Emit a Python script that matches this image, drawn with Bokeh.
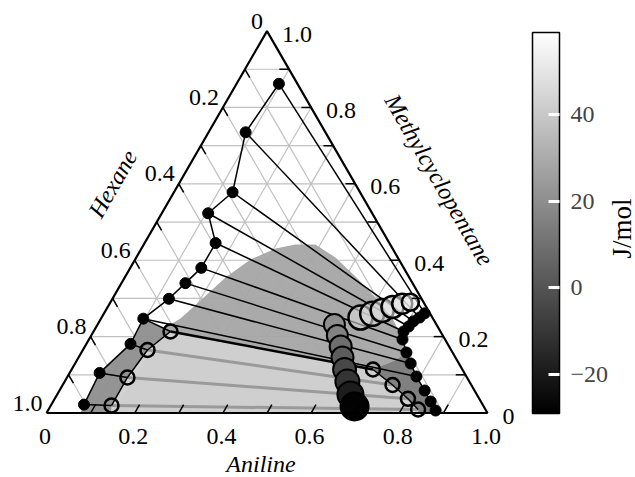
import numpy as np
from bokeh.plotting import figure
from bokeh.models import Range1d, ColumnDataSource, LinearColorMapper, ColorBar, FixedTicker
from bokeh.palettes import Greys256
from bokeh.transform import transform
from bokeh.core.properties import value
from bokeh.embed import file_html
from bokeh.resources import INLINE

# ---------------- data (mole fractions: aniline, methylcyclopentane; hexane = rest) -------------
axis_ticks = [0.0, 0.2, 0.4, 0.6, 0.8, 1.0]
axis_tick_labels = ["0", "0.2", "0.4", "0.6", "0.8", "1.0"]
minor_ticks = [0.1, 0.2, 0.3, 0.4, 0.5, 0.6, 0.7, 0.8, 0.9]

# experimental hexane-rich phase (filled dots, left branch)
hex_rich_aniline = [0.096, 0.084, 0.133, 0.105, 0.161, 0.161, 0.145, 0.128, 0.096, 0.100, 0.068, 0.074]
hex_rich_mcp = [0.862, 0.735, 0.578, 0.523, 0.445, 0.380, 0.340, 0.299, 0.247, 0.181, 0.105, 0.022]
# experimental aniline-rich phase (filled dots, right branch)
ani_rich_aniline = [0.727, 0.721, 0.712, 0.708, 0.703, 0.711, 0.737, 0.761, 0.791, 0.828, 0.856, 0.879]
ani_rich_mcp = [0.261, 0.250, 0.240, 0.2265, 0.2134, 0.1925, 0.1584, 0.1296, 0.0956, 0.0589, 0.0301, 0.0065]

# calculated phases (open circles)
calc_left_aniline = [0.1745, 0.1465, 0.137, 0.1376]
calc_left_mcp = [0.2134, 0.165, 0.093, 0.0196]
calc_right_aniline = [0.6834, 0.748, 0.801, 0.838]
calc_right_mcp = [0.1139, 0.0733, 0.0372, 0.0092]

# excess enthalpy points (big circles), J/mol
arc_aniline = [0.587, 0.6086, 0.627, 0.6458, 0.6636, 0.680]
arc_mcp = [0.250, 0.2598, 0.2684, 0.2776, 0.286, 0.290]
arc_he = [45, 46, 47, 48, 50, 52]
col_aniline = [0.537, 0.558, 0.580, 0.5985, 0.619, 0.641, 0.665, 0.690]
col_mcp = [0.2317, 0.203, 0.1741, 0.1453, 0.1139, 0.0825, 0.0484, 0.017]
col_he = [20, 16, 9, 3, -4, -11, -19, -28]

# shaded regions, J/mol
dome_aniline = [0.158, 0.180, 0.202, 0.2285, 0.2616, 0.304, 0.344, 0.389, 0.4517, 0.522, 0.5948,
                0.661, 0.7098, 0.7567, 0.812, 0.861, 0.884, 0.147]
dome_mcp = [0.2239, 0.2474, 0.2946, 0.3548, 0.402, 0.4307, 0.4412, 0.4412, 0.4072, 0.3574, 0.3024,
            0.2474, 0.195, 0.1375, 0.072, 0.0196, 0.0, 0.0]
dome_he = 28
light_aniline = [0.1745, 0.6834, 0.748, 0.801, 0.838, 0.8435, 0.147, 0.1376, 0.137, 0.1465]
light_mcp = [0.2134, 0.1139, 0.0733, 0.0372, 0.0092, 0.0, 0.0, 0.0196, 0.093, 0.165]
light_he = 43
rband_aniline = [0.6834, 0.7227, 0.737, 0.761, 0.791, 0.828, 0.856, 0.879, 0.8866, 0.8435, 0.838, 0.801, 0.748]
rband_mcp = [0.1139, 0.1375, 0.1584, 0.1296, 0.0956, 0.0589, 0.0301, 0.0065, 0.0, 0.0, 0.0092, 0.0372, 0.0733]
rband_he = 14
lband_aniline = [0.096, 0.1745, 0.1465, 0.137, 0.1376, 0.147, 0.077, 0.074, 0.068, 0.100]
lband_mcp = [0.247, 0.2134, 0.165, 0.093, 0.0196, 0.0, 0.0, 0.022, 0.105, 0.181]
lband_he = 20

cbar_ticks = [-20, 0, 20, 40]
cbar_low, cbar_high = -29, 59

# ---------------- helpers ----------------
S3 = np.sqrt(3) / 2


def tern(aniline, mcp):
    a = np.asarray(aniline, float)
    m = np.asarray(mcp, float)
    return a + m / 2, m * S3


FONT = value("Liberation Serif")

p = figure(width=635, height=477, output_backend="svg", toolbar_location=None,
           x_range=Range1d(-46 / 441, 589 / 441), y_range=Range1d(-64.5 / 441, 412.5 / 441),
           min_border=0, min_border_left=0, min_border_right=0, min_border_top=0, min_border_bottom=0)
p.axis.visible = False
p.grid.visible = False
p.outline_line_color = None
p.background_fill_color = "white"

mapper = LinearColorMapper(palette=Greys256, low=cbar_low, high=cbar_high)

# grid
gx, gy = [], []
for v in minor_ticks:
    for (a0, m0, a1, m1) in [(v, 0, v, 1 - v), (0, v, 1 - v, v), (1 - v, 0, 0, 1 - v)]:
        x, y = tern([a0, a1], [m0, m1])
        gx.append(list(x)); gy.append(list(y))
p.multi_line(gx, gy, line_color="#c0c0c0", line_width=1.2)

# shaded regions
pxs, pys, pvals = [], [], []
for aa, mm, vv in [(dome_aniline, dome_mcp, dome_he), (light_aniline, light_mcp, light_he),
                   (rband_aniline, rband_mcp, rband_he), (lband_aniline, lband_mcp, lband_he)]:
    x, y = tern(aa, mm)
    pxs.append(list(x)); pys.append(list(y)); pvals.append(vv)
p.patches("xs", "ys", source=ColumnDataSource(dict(xs=pxs, ys=pys, val=pvals)),
          fill_color=transform("val", mapper), line_color=None, fill_alpha=0.95)

# tie lines
lx, ly = tern(hex_rich_aniline, hex_rich_mcp)
rx, ry = tern(ani_rich_aniline, ani_rich_mcp)
olx, oly = tern(calc_left_aniline, calc_left_mcp)
orx, ory = tern(calc_right_aniline, calc_right_mcp)

gtx = [[olx[i], orx[i]] for i in range(1, 4)]
gty = [[oly[i], ory[i]] for i in range(1, 4)]
p.multi_line(gtx, gty, line_color="#9a9a9a", line_width=3)

btx = [[lx[i], rx[i]] for i in range(9)]
bty = [[ly[i], ry[i]] for i in range(9)]
btx += [[lx[8], olx[0]], [lx[9], olx[1]], [lx[10], olx[2]], [lx[11], olx[3]]]
bty += [[ly[8], oly[0]], [ly[9], oly[1]], [ly[10], oly[2]], [ly[11], oly[3]]]
p.multi_line(btx, bty, line_color="black", line_width=1.5)
p.line([olx[0], orx[0]], [oly[0], ory[0]], line_color="black", line_width=2.5)

# binodal branches
for x, y in [(lx, ly), (rx, ry), (olx, oly), (orx, ory)]:
    p.line(x, y, line_color="black", line_width=1.5)

p.scatter(lx, ly, size=11, fill_color="black", line_color="black")
p.scatter(rx, ry, size=11, fill_color="black", line_color="black")
p.scatter(np.concatenate([olx, orx]), np.concatenate([oly, ory]), size=14,
          fill_color=None, line_color="black", line_width=2.5)

# excess enthalpy circles
ax_, ay_ = tern(arc_aniline, arc_mcp)
p.scatter("x", "y", source=ColumnDataSource(dict(x=ax_, y=ay_, val=arc_he, s=[24, 24, 23, 22, 20, 17])),
          size="s", fill_color=transform("val", mapper), fill_alpha=0.6, line_color="black", line_width=2.5)
cx_, cy_ = tern(col_aniline, col_mcp)
p.scatter("x", "y", source=ColumnDataSource(dict(x=cx_, y=cy_, val=col_he, s=[21, 21, 22, 22, 23, 24, 26, 28])),
          size="s", fill_color=transform("val", mapper), line_color="black", line_width=2)

# triangle frame
tx, ty = tern([0, 1, 0, 0], [0, 0, 1, 0])
p.line(tx, ty, line_color="black", line_width=2.2)

# ticks
L = 0.022
tkx, tky = [], []
for v in minor_ticks:
    for (a0, m0, a1, m1) in [(v, 0, v, L), (0, 1 - v, L, 1 - v - L), (1 - v, v, 1 - v - L, v)]:
        x, y = tern([a0, a1], [m0, m1])
        tkx.append(list(x)); tky.append(list(y))
p.multi_line(tkx, tky, line_color="black", line_width=1.5)

# tick labels
TS = "24px"
bx, by = tern(axis_ticks, [0] * 6)
p.text(bx, by, text=axis_tick_labels, text_font=FONT, text_font_size=TS, text_align="center",
       text_baseline="middle", x_offset=-1.5, y_offset=23)
hx, hy = tern([0] * 6, [1 - v for v in axis_ticks])
p.text(hx, hy, text=axis_tick_labels, text_font=FONT, text_font_size=TS, text_align="right",
       text_baseline="middle", x_offset=-4, y_offset=-10)
mx, my = tern([1 - v for v in axis_ticks], axis_ticks)
p.text(mx, my, text=axis_tick_labels, text_font=FONT, text_font_size=TS, text_align="left",
       text_baseline="middle", x_offset=15, y_offset=3)

# axis titles
t1x, t1y = tern([0.5], [0.0])
p.text(t1x, t1y, text=["Aniline"], text_font=FONT, text_font_style="italic", text_font_size="24px",
       text_align="center", text_baseline="middle", x_offset=-6, y_offset=51)
t2x, t2y = tern([0.0], [0.6])
p.text(t2x, t2y, text=["Hexane"], text_font=FONT, text_font_style="italic", text_font_size="24px",
       text_align="center", text_baseline="middle", x_offset=-66, y_offset=0, angle=np.pi / 3)
t3x, t3y = tern([0.4], [0.6])
p.text(t3x, t3y, text=["Methylcyclopentane"], text_font=FONT, text_font_style="italic",
       text_font_size="24px", text_align="center", text_baseline="middle", x_offset=84, y_offset=-4,
       angle=-np.pi / 3)

# colour bar
cb = ColorBar(color_mapper=mapper, width=27, height=381, location=(532, 64), padding=0, margin=0,
              ticker=FixedTicker(ticks=cbar_ticks), major_label_overrides={-20: "\u221220"},
              major_label_text_font="Liberation Serif", major_label_text_font_size="24px",
              major_tick_in=11, major_tick_out=0, major_tick_line_color="white", major_tick_line_width=3,
              minor_tick_line_color=None, bar_line_color="black", bar_line_width=1.5,
              border_line_color=None, background_fill_alpha=0, label_standoff=11)
p.add_layout(cb)
p.text([(621 - 46) / 441], [(412.5 - 228) / 441], text=["J/mol"], text_font=FONT, text_font_size="27px",
       text_align="center", text_baseline="middle", angle=np.pi / 2)

open("out.html", "w").write(file_html(p, INLINE))
